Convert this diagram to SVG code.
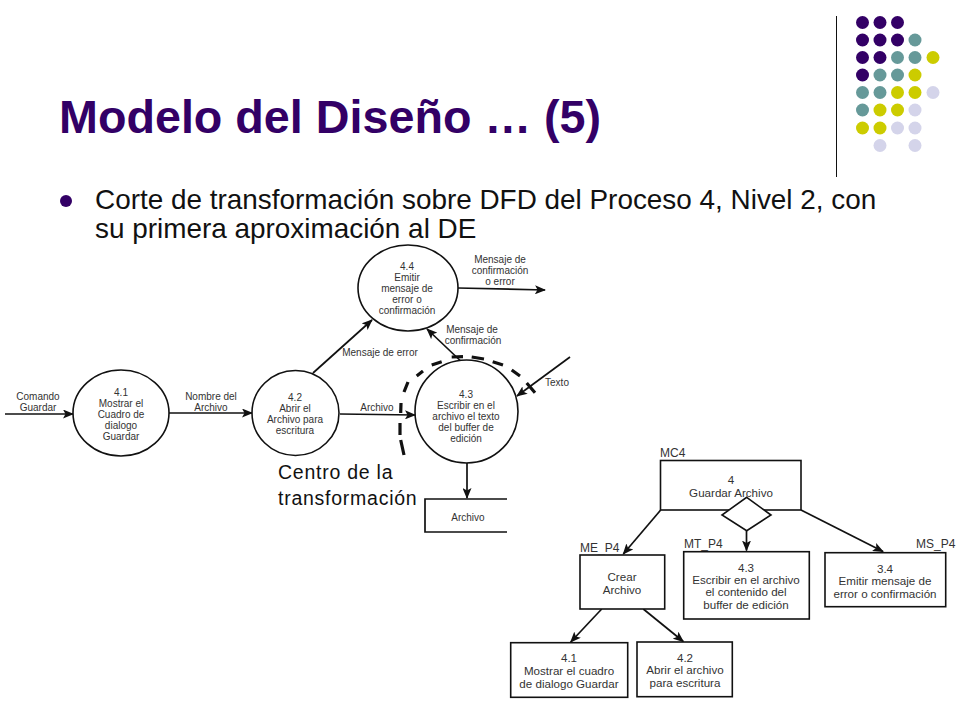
<svg xmlns="http://www.w3.org/2000/svg" width="960" height="720" viewBox="0 0 960 720">
<style>
text{font-family:"Liberation Sans",Arial,sans-serif;fill:#333}
.t{font-size:10px;text-anchor:middle}
.s{font-size:11.6px;text-anchor:middle}
.b{font-size:27.9px;fill:#111}
.f{font-size:19.5px;letter-spacing:.75px;fill:#111}
.n{fill:#fff;stroke:#111;stroke-width:1.6}
.c{fill:none;stroke:#111;stroke-width:1.7}
.p{fill:#330066}.g{fill:#669999}.y{fill:#cccc00}.l{fill:#d4d4ea}
</style>
<defs>
<marker id="a" markerWidth="11" markerHeight="9" refX="10" refY="4.5" orient="auto" markerUnits="userSpaceOnUse"><path d="M0 0L11 4.5L0 9L2.5 4.5Z" fill="#111"/></marker>
</defs>
<rect width="960" height="720" fill="#fff"/>
<g id="decor">
<line x1="836.5" y1="16" x2="836.5" y2="177" stroke="#111" stroke-width="1"/>
<g class="p"><circle cx="862.5" cy="22.5" r="6.5"/><circle cx="880" cy="22.5" r="6.5"/><circle cx="897.5" cy="22.5" r="6.5"/><circle cx="862.5" cy="40" r="6.5"/><circle cx="880" cy="40" r="6.5"/><circle cx="897.5" cy="40" r="6.5"/><circle cx="862.5" cy="57.5" r="6.5"/><circle cx="880" cy="57.5" r="6.5"/><circle cx="862.5" cy="75" r="6.5"/></g>
<g class="g"><circle cx="915" cy="40" r="6.5"/><circle cx="897.5" cy="57.5" r="6.5"/><circle cx="915" cy="57.5" r="6.5"/><circle cx="880" cy="75" r="6.5"/><circle cx="897.5" cy="75" r="6.5"/><circle cx="862.5" cy="92.5" r="6.5"/><circle cx="880" cy="92.5" r="6.5"/><circle cx="862.5" cy="110" r="6.5"/></g>
<g class="y"><circle cx="933" cy="57.5" r="6.5"/><circle cx="915" cy="75" r="6.5"/><circle cx="897.5" cy="92.5" r="6.5"/><circle cx="915" cy="92.5" r="6.5"/><circle cx="880" cy="110" r="6.5"/><circle cx="897.5" cy="110" r="6.5"/><circle cx="862.5" cy="128" r="6.5"/><circle cx="880" cy="128" r="6.5"/></g>
<g class="l"><circle cx="933" cy="92.5" r="6.5"/><circle cx="915" cy="110" r="6.5"/><circle cx="897.5" cy="128" r="6.5"/><circle cx="915" cy="128" r="6.5"/><circle cx="880" cy="145.5" r="6.5"/><circle cx="915" cy="145.5" r="6.5"/></g>
</g>
<text x="59" y="133" font-size="46.7" font-weight="700" style="fill:#330066">Modelo del Diseño … (5)</text>
<circle cx="66" cy="201" r="6" fill="#330066"/>
<text class="b" x="95" y="209">Corte de transformación sobre DFD del Proceso 4, Nivel 2, con</text>
<text class="b" x="95" y="238">su primera aproximación al DE</text>
<g id="connectors">
<path class="c" marker-end="url(#a)" d="M5 414L73 414"/>
<path class="c" marker-end="url(#a)" d="M169 413L252 413"/>
<path class="c" marker-end="url(#a)" d="M340 414L415 415"/>
<path class="c" marker-end="url(#a)" d="M313 373L372 320"/>
<path class="c" marker-end="url(#a)" d="M467 367L427 329"/>
<path class="c" marker-end="url(#a)" d="M458 288L545 290"/>
<path class="c" marker-end="url(#a)" d="M570 357L517 396"/>
<path class="c" marker-end="url(#a)" d="M467 463L467 498"/>
<path class="c" marker-end="url(#a)" d="M660.7 510L623.3 554"/>
<path class="c" marker-end="url(#a)" d="M801 510L883 551.5"/>
<path class="c" marker-end="url(#a)" d="M746.5 531L746.5 550.5"/>
<path class="c" marker-end="url(#a)" d="M601.7 609L570.7 642"/>
<path class="c" marker-end="url(#a)" d="M643.3 609L683.3 641.5"/>
<path fill="none" stroke="#111" stroke-width="3.2" d="M404 455L400.7 440M400 435L400 423M400.7 413L401 403M404 392L408 382M416.7 376L423 371M431.7 365L441.7 361.7M451.7 357L463 356.7M471.7 357L484 359M492.7 361.7L503 365M511.7 370L520 376M526.7 383L535 392.7"/>
</g>
<g id="n41"><ellipse class="n" cx="121" cy="413" rx="48" ry="43"/><text class="t"><tspan x="121" y="396">4.1</tspan><tspan x="121" y="407">Mostrar el</tspan><tspan x="121" y="418">Cuadro de</tspan><tspan x="121" y="429">dialogo</tspan><tspan x="121" y="440">Guardar</tspan></text></g>
<g id="n42"><ellipse class="n" cx="295.5" cy="413" rx="43.5" ry="42.5"/><text class="t"><tspan x="295" y="401">4.2</tspan><tspan x="295" y="412">Abrir el</tspan><tspan x="295" y="423">Archivo para</tspan><tspan x="295" y="434">escritura</tspan></text></g>
<g id="n44"><ellipse class="n" cx="408" cy="288" rx="50" ry="43"/><text class="t"><tspan x="407" y="270">4.4</tspan><tspan x="407" y="281">Emitir</tspan><tspan x="407" y="292">mensaje de</tspan><tspan x="407" y="303">error o</tspan><tspan x="407" y="314">confirmación</tspan></text></g>
<g id="n43"><ellipse class="n" cx="466.5" cy="411.5" rx="51.5" ry="51.5"/><text class="t"><tspan x="466" y="398">4.3</tspan><tspan x="466" y="409">Escribir en el</tspan><tspan x="466" y="420">archivo el texto</tspan><tspan x="466" y="431">del buffer de</tspan><tspan x="466" y="442">edición</tspan></text></g>
<g id="store"><path class="c" d="M507 499L425 499L425 532L507 532"/><text class="t" x="468" y="521">Archivo</text></g>
<g id="flow-labels">
<text class="t"><tspan x="38" y="400">Comando</tspan><tspan x="38" y="411">Guardar</tspan></text>
<text class="t"><tspan x="211" y="400">Nombre del</tspan><tspan x="211" y="411">Archivo</tspan></text>
<text class="t" x="377" y="411">Archivo</text>
<text class="t" x="380" y="356">Mensaje de error</text>
<text class="t"><tspan x="472" y="333">Mensaje de</tspan><tspan x="473" y="344">confirmación</tspan></text>
<text class="t"><tspan x="500" y="263">Mensaje de</tspan><tspan x="500" y="274">confirmación</tspan><tspan x="500" y="285">o error</tspan></text>
<text class="t" x="557" y="386">Texto</text>
<text class="f" x="278" y="479">Centro de la</text>
<text class="f" x="278" y="505">transformación</text>
</g>
<g id="mc4"><rect class="n" x="660.5" y="460.5" width="140.5" height="49.5"/><text class="s"><tspan x="731" y="484">4</tspan><tspan x="731" y="497">Guardar Archivo</tspan></text><text x="660" y="457" font-size="12">MC4</text></g>
<g id="diamond"><path class="n" d="M746.7 497.3L771 515L746.7 530.7L722 515Z"/></g>
<g id="me"><rect class="n" x="580" y="555" width="84.7" height="54"/><text class="s"><tspan x="622" y="581">Crear</tspan><tspan x="622" y="594">Archivo</tspan></text><text x="580" y="552" font-size="12">ME_P4</text></g>
<g id="mt"><rect class="n" x="683.7" y="551.7" width="125.6" height="67.3"/><text class="s"><tspan x="746" y="572">4.3</tspan><tspan x="746" y="584">Escribir en el archivo</tspan><tspan x="746" y="596">el contenido del</tspan><tspan x="746" y="609">buffer de edición</tspan></text><text x="684" y="548" font-size="12">MT_P4</text></g>
<g id="ms"><rect class="n" x="825" y="552.7" width="120.7" height="54"/><text class="s"><tspan x="885" y="573">3.4</tspan><tspan x="885" y="585">Emitir mensaje de</tspan><tspan x="885" y="598">error o confirmación</tspan></text><text x="916" y="548" font-size="12">MS_P4</text></g>
<g id="b41"><rect class="n" x="510.7" y="642.7" width="117" height="54.6"/><text class="s"><tspan x="569" y="662">4.1</tspan><tspan x="569" y="675">Mostrar el cuadro</tspan><tspan x="569" y="688">de dialogo Guardar</tspan></text></g>
<g id="b42"><rect class="n" x="637" y="642" width="95.3" height="54.7"/><text class="s"><tspan x="685" y="662">4.2</tspan><tspan x="685" y="674">Abrir el archivo</tspan><tspan x="685" y="687">para escritura</tspan></text></g>
</svg>
